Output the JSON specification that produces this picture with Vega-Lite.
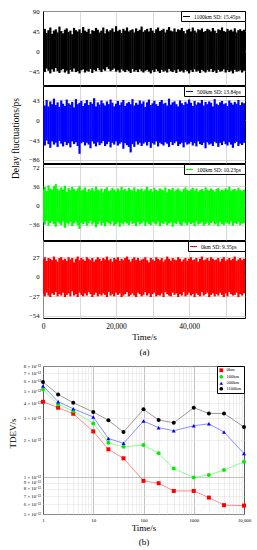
{
"$schema": "https://vega.github.io/schema/vega-lite/v6.json",
"background": "white",
"padding": {"left": 8, "top": 7, "right": 2, "bottom": 2},
"config": {
  "font": "Liberation Serif",
  "view": {"stroke": "black", "strokeWidth": 1},
  "axis": {"gridColor": "#c8c8c8", "gridWidth": 0.7, "domain": false, "ticks": false, "labelFont": "Liberation Serif", "titleFont": "Liberation Serif", "titleFontWeight": "normal", "labelColor": "black", "titleColor": "black"}
},
"datasets": {
"p1": [
{"t":0,"lo":-42,"hi":44},{"t":500,"lo":-47,"hi":50},{"t":1000,"lo":-39,"hi":41},{"t":1500,"lo":-44,"hi":47},{"t":2000,"lo":-50,"hi":53},{"t":2500,"lo":-41,"hi":39},{"t":3000,"lo":-46,"hi":46},{"t":3500,"lo":-38,"hi":49},{"t":4000,"lo":-45,"hi":42},{"t":4500,"lo":-49,"hi":55},
{"t":5000,"lo":-43,"hi":45},{"t":5500,"lo":-40,"hi":40},{"t":6000,"lo":-48,"hi":48},{"t":6500,"lo":-44,"hi":51},{"t":7000,"lo":-51,"hi":43},{"t":7500,"lo":-42,"hi":46},{"t":8000,"lo":-46,"hi":38},{"t":8500,"lo":-39,"hi":52},{"t":9000,"lo":-47,"hi":47},{"t":9500,"lo":-45,"hi":44},
{"t":10000,"lo":-50,"hi":49},{"t":10500,"lo":-43,"hi":41},{"t":11000,"lo":-41,"hi":54},{"t":11500,"lo":-48,"hi":46},{"t":12000,"lo":-44,"hi":43},{"t":12500,"lo":-46,"hi":50},{"t":13000,"lo":-40,"hi":39},{"t":13500,"lo":-49,"hi":47},{"t":14000,"lo":-42,"hi":45},{"t":14500,"lo":-45,"hi":52},
{"t":15000,"lo":-38,"hi":48},{"t":15500,"lo":-43,"hi":42},{"t":16000,"lo":-47,"hi":46},{"t":16500,"lo":-41,"hi":53},{"t":17000,"lo":-44,"hi":40},{"t":17500,"lo":-36,"hi":49},{"t":18000,"lo":-40,"hi":44},{"t":18500,"lo":-45,"hi":47},{"t":19000,"lo":-42,"hi":51},{"t":19500,"lo":-39,"hi":43},
{"t":20000,"lo":-46,"hi":56},{"t":20500,"lo":-43,"hi":45},{"t":21000,"lo":-48,"hi":48},{"t":21500,"lo":-41,"hi":41},{"t":22000,"lo":-44,"hi":50},{"t":22500,"lo":-47,"hi":46},{"t":23000,"lo":-42,"hi":53},{"t":23500,"lo":-45,"hi":44},{"t":24000,"lo":-49,"hi":47},{"t":24500,"lo":-40,"hi":49},
{"t":25000,"lo":-46,"hi":42},{"t":25500,"lo":-43,"hi":51},{"t":26000,"lo":-47,"hi":45},{"t":26500,"lo":-41,"hi":48},{"t":27000,"lo":-45,"hi":55},{"t":27500,"lo":-48,"hi":43},{"t":28000,"lo":-44,"hi":47},{"t":28500,"lo":-42,"hi":50},{"t":29000,"lo":-46,"hi":44},{"t":29500,"lo":-50,"hi":52},
{"t":30000,"lo":-43,"hi":46},{"t":30500,"lo":-47,"hi":41},{"t":31000,"lo":-41,"hi":49},{"t":31500,"lo":-45,"hi":53},{"t":32000,"lo":-49,"hi":45},{"t":32500,"lo":-42,"hi":47},{"t":33000,"lo":-46,"hi":50},{"t":33500,"lo":-44,"hi":42},{"t":34000,"lo":-48,"hi":48},{"t":34500,"lo":-40,"hi":54},
{"t":35000,"lo":-45,"hi":46},{"t":35500,"lo":-47,"hi":44},{"t":36000,"lo":-43,"hi":51},{"t":36500,"lo":-49,"hi":43},{"t":37000,"lo":-41,"hi":49},{"t":37500,"lo":-46,"hi":47},{"t":38000,"lo":-44,"hi":52},{"t":38500,"lo":-48,"hi":45},{"t":39000,"lo":-42,"hi":40},{"t":39500,"lo":-45,"hi":48},
{"t":40000,"lo":-50,"hi":50},{"t":40500,"lo":-43,"hi":44},{"t":41000,"lo":-47,"hi":53},{"t":41500,"lo":-41,"hi":46},{"t":42000,"lo":-46,"hi":42},{"t":42500,"lo":-44,"hi":49},{"t":43000,"lo":-49,"hi":47},{"t":43500,"lo":-42,"hi":51},{"t":44000,"lo":-45,"hi":43},{"t":44500,"lo":-48,"hi":45},
{"t":45000,"lo":-43,"hi":50},{"t":45500,"lo":-46,"hi":48},{"t":46000,"lo":-40,"hi":44},{"t":46500,"lo":-47,"hi":52},{"t":47000,"lo":-44,"hi":46},{"t":47500,"lo":-49,"hi":41},{"t":48000,"lo":-42,"hi":49},{"t":48500,"lo":-46,"hi":47},{"t":49000,"lo":-45,"hi":53},{"t":49500,"lo":-41,"hi":45},
{"t":50000,"lo":-48,"hi":43},{"t":50500,"lo":-43,"hi":50},{"t":51000,"lo":-47,"hi":46},{"t":51500,"lo":-44,"hi":48},{"t":52000,"lo":-50,"hi":44},{"t":52500,"lo":-42,"hi":51},{"t":53000,"lo":-46,"hi":42},{"t":53500,"lo":-45,"hi":47},{"t":54000,"lo":-43,"hi":49},{"t":54500,"lo":-48,"hi":45},
{"t":55000,"lo":-44,"hi":48}
],
"p2": [
{"t":0,"lo":-48,"hi":38},{"t":500,"lo":-55,"hi":32},{"t":1000,"lo":-44,"hi":44},{"t":1500,"lo":-52,"hi":30},{"t":2000,"lo":-60,"hi":41},{"t":2500,"lo":-46,"hi":35},{"t":3000,"lo":-53,"hi":47},{"t":3500,"lo":-49,"hi":33},{"t":4000,"lo":-58,"hi":39},{"t":4500,"lo":-45,"hi":29},
{"t":5000,"lo":-51,"hi":43},{"t":5500,"lo":-57,"hi":36},{"t":6000,"lo":-47,"hi":31},{"t":6500,"lo":-54,"hi":45},{"t":7000,"lo":-50,"hi":37},{"t":7500,"lo":-59,"hi":34},{"t":8000,"lo":-46,"hi":40},{"t":8500,"lo":-52,"hi":28},{"t":9000,"lo":-48,"hi":46},{"t":9500,"lo":-56,"hi":35},
{"t":10000,"lo":-73,"hi":38},{"t":10500,"lo":-50,"hi":42},{"t":11000,"lo":-47,"hi":31},{"t":11500,"lo":-55,"hi":37},{"t":12000,"lo":-49,"hi":44},{"t":12500,"lo":-53,"hi":33},{"t":13000,"lo":-61,"hi":40},{"t":13500,"lo":-46,"hi":36},{"t":14000,"lo":-51,"hi":48},{"t":14500,"lo":-57,"hi":30},
{"t":15000,"lo":-48,"hi":39},{"t":15500,"lo":-54,"hi":34},{"t":16000,"lo":-50,"hi":43},{"t":16500,"lo":-45,"hi":37},{"t":17000,"lo":-56,"hi":32},{"t":17500,"lo":-52,"hi":41},{"t":18000,"lo":-47,"hi":35},{"t":18500,"lo":-59,"hi":45},{"t":19000,"lo":-49,"hi":38},{"t":19500,"lo":-53,"hi":30},
{"t":20000,"lo":-46,"hi":36},{"t":20500,"lo":-55,"hi":42},{"t":21000,"lo":-51,"hi":33},{"t":21500,"lo":-48,"hi":39},{"t":22000,"lo":-62,"hi":44},{"t":22500,"lo":-50,"hi":31},{"t":23000,"lo":-54,"hi":37},{"t":23500,"lo":-58,"hi":40},{"t":24000,"lo":-70,"hi":35},{"t":24500,"lo":-52,"hi":46},
{"t":25000,"lo":-58,"hi":32},{"t":25500,"lo":-46,"hi":38},{"t":26000,"lo":-53,"hi":34},{"t":26500,"lo":-49,"hi":43},{"t":27000,"lo":-56,"hi":36},{"t":27500,"lo":-51,"hi":41},{"t":28000,"lo":-48,"hi":29},{"t":28500,"lo":-55,"hi":39},{"t":29000,"lo":-47,"hi":45},{"t":29500,"lo":-60,"hi":33},
{"t":30000,"lo":-50,"hi":37},{"t":30500,"lo":-53,"hi":42},{"t":31000,"lo":-46,"hi":35},{"t":31500,"lo":-57,"hi":31},{"t":32000,"lo":-49,"hi":40},{"t":32500,"lo":-52,"hi":44},{"t":33000,"lo":-55,"hi":36},{"t":33500,"lo":-48,"hi":38},{"t":34000,"lo":-51,"hi":32},{"t":34500,"lo":-58,"hi":47},
{"t":35000,"lo":-47,"hi":34},{"t":35500,"lo":-54,"hi":39},{"t":36000,"lo":-50,"hi":41},{"t":36500,"lo":-46,"hi":35},{"t":37000,"lo":-56,"hi":30},{"t":37500,"lo":-52,"hi":43},{"t":38000,"lo":-49,"hi":37},{"t":38500,"lo":-59,"hi":33},{"t":39000,"lo":-48,"hi":40},{"t":39500,"lo":-53,"hi":36},
{"t":40000,"lo":-51,"hi":45},{"t":40500,"lo":-47,"hi":38},{"t":41000,"lo":-55,"hi":31},{"t":41500,"lo":-50,"hi":42},{"t":42000,"lo":-57,"hi":34},{"t":42500,"lo":-46,"hi":39},{"t":43000,"lo":-52,"hi":37},{"t":43500,"lo":-54,"hi":44},{"t":44000,"lo":-49,"hi":32},{"t":44500,"lo":-61,"hi":40},
{"t":45000,"lo":-48,"hi":35},{"t":45500,"lo":-53,"hi":41},{"t":46000,"lo":-51,"hi":38},{"t":46500,"lo":-56,"hi":30},{"t":47000,"lo":-47,"hi":46},{"t":47500,"lo":-50,"hi":36},{"t":48000,"lo":-58,"hi":33},{"t":48500,"lo":-49,"hi":39},{"t":49000,"lo":-54,"hi":42},{"t":49500,"lo":-46,"hi":35},
{"t":50000,"lo":-52,"hi":37},{"t":50500,"lo":-55,"hi":31},{"t":51000,"lo":-48,"hi":43},{"t":51500,"lo":-53,"hi":38},{"t":52000,"lo":-60,"hi":34},{"t":52500,"lo":-50,"hi":40},{"t":53000,"lo":-47,"hi":36},{"t":53500,"lo":-56,"hi":44},{"t":54000,"lo":-51,"hi":33},{"t":54500,"lo":-54,"hi":39},
{"t":55000,"lo":-49,"hi":37}
],
"p3": [
{"t":0,"lo":-32,"hi":30},{"t":500,"lo":-36,"hi":35},{"t":1000,"lo":-29,"hi":27},{"t":1500,"lo":-38,"hi":38},{"t":2000,"lo":-33,"hi":32},{"t":2500,"lo":-30,"hi":29},{"t":3000,"lo":-35,"hi":36},{"t":3500,"lo":-40,"hi":40},{"t":4000,"lo":-31,"hi":31},{"t":4500,"lo":-34,"hi":28},
{"t":5000,"lo":-37,"hi":34},{"t":5500,"lo":-30,"hi":30},{"t":6000,"lo":-42,"hi":37},{"t":6500,"lo":-33,"hi":26},{"t":7000,"lo":-36,"hi":33},{"t":7500,"lo":-31,"hi":29},{"t":8000,"lo":-39,"hi":35},{"t":8500,"lo":-34,"hi":31},{"t":9000,"lo":-30,"hi":27},{"t":9500,"lo":-37,"hi":32},
{"t":10000,"lo":-44,"hi":36},{"t":10500,"lo":-33,"hi":28},{"t":11000,"lo":-35,"hi":30},{"t":11500,"lo":-31,"hi":34},{"t":12000,"lo":-38,"hi":26},{"t":12500,"lo":-34,"hi":31},{"t":13000,"lo":-29,"hi":29},{"t":13500,"lo":-36,"hi":33},{"t":14000,"lo":-32,"hi":27},{"t":14500,"lo":-41,"hi":35},
{"t":15000,"lo":-35,"hi":30},{"t":15500,"lo":-30,"hi":28},{"t":16000,"lo":-37,"hi":32},{"t":16500,"lo":-33,"hi":25},{"t":17000,"lo":-39,"hi":31},{"t":17500,"lo":-31,"hi":34},{"t":18000,"lo":-34,"hi":27},{"t":18500,"lo":-36,"hi":29},{"t":19000,"lo":-30,"hi":33},{"t":19500,"lo":-38,"hi":30},
{"t":20000,"lo":-35,"hi":26},{"t":20500,"lo":-32,"hi":32},{"t":21000,"lo":-40,"hi":28},{"t":21500,"lo":-33,"hi":35},{"t":22000,"lo":-36,"hi":29},{"t":22500,"lo":-31,"hi":31},{"t":23000,"lo":-34,"hi":27},{"t":23500,"lo":-37,"hi":33},{"t":24000,"lo":-30,"hi":30},{"t":24500,"lo":-35,"hi":28},
{"t":25000,"lo":-33,"hi":34},{"t":25500,"lo":-39,"hi":26},{"t":26000,"lo":-31,"hi":31},{"t":26500,"lo":-36,"hi":29},{"t":27000,"lo":-34,"hi":32},{"t":27500,"lo":-30,"hi":27},{"t":28000,"lo":-38,"hi":30},{"t":28500,"lo":-32,"hi":35},{"t":29000,"lo":-35,"hi":28},{"t":29500,"lo":-37,"hi":31},
{"t":30000,"lo":-31,"hi":26},{"t":30500,"lo":-34,"hi":33},{"t":31000,"lo":-36,"hi":29},{"t":31500,"lo":-30,"hi":27},{"t":32000,"lo":-39,"hi":32},{"t":32500,"lo":-33,"hi":30},{"t":33000,"lo":-35,"hi":28},{"t":33500,"lo":-31,"hi":34},{"t":34000,"lo":-37,"hi":25},{"t":34500,"lo":-34,"hi":31},
{"t":35000,"lo":-32,"hi":29},{"t":35500,"lo":-40,"hi":33},{"t":36000,"lo":-33,"hi":27},{"t":36500,"lo":-35,"hi":30},{"t":37000,"lo":-30,"hi":32},{"t":37500,"lo":-36,"hi":28},{"t":38000,"lo":-38,"hi":26},{"t":38500,"lo":-31,"hi":31},{"t":39000,"lo":-34,"hi":34},{"t":39500,"lo":-37,"hi":29},
{"t":40000,"lo":-32,"hi":27},{"t":40500,"lo":-35,"hi":30},{"t":41000,"lo":-33,"hi":33},{"t":41500,"lo":-39,"hi":28},{"t":42000,"lo":-30,"hi":32},{"t":42500,"lo":-36,"hi":26},{"t":43000,"lo":-34,"hi":29},{"t":43500,"lo":-31,"hi":31},{"t":44000,"lo":-38,"hi":27},{"t":44500,"lo":-35,"hi":34},
{"t":45000,"lo":-32,"hi":30},{"t":45500,"lo":-37,"hi":28},{"t":46000,"lo":-33,"hi":32},{"t":46500,"lo":-30,"hi":29},{"t":47000,"lo":-36,"hi":26},{"t":47500,"lo":-34,"hi":31},{"t":48000,"lo":-39,"hi":33},{"t":48500,"lo":-31,"hi":27},{"t":49000,"lo":-35,"hi":30},{"t":49500,"lo":-37,"hi":28},
{"t":50000,"lo":-32,"hi":32},{"t":50500,"lo":-34,"hi":29},{"t":51000,"lo":-36,"hi":35},{"t":51500,"lo":-30,"hi":27},{"t":52000,"lo":-38,"hi":30},{"t":52500,"lo":-33,"hi":31},{"t":53000,"lo":-35,"hi":28},{"t":53500,"lo":-31,"hi":33},{"t":54000,"lo":-37,"hi":29},{"t":54500,"lo":-34,"hi":27},
{"t":55000,"lo":-33,"hi":30}
],
"p4": [
{"t":0,"lo":-24,"hi":24},{"t":500,"lo":-27,"hi":27},{"t":1000,"lo":-22,"hi":22},{"t":1500,"lo":-26,"hi":26},{"t":2000,"lo":-28,"hi":25},{"t":2500,"lo":-23,"hi":23},{"t":3000,"lo":-25,"hi":28},{"t":3500,"lo":-21,"hi":24},{"t":4000,"lo":-27,"hi":21},{"t":4500,"lo":-24,"hi":26},
{"t":5000,"lo":-26,"hi":27},{"t":5500,"lo":-22,"hi":23},{"t":6000,"lo":-28,"hi":25},{"t":6500,"lo":-25,"hi":22},{"t":7000,"lo":-23,"hi":27},{"t":7500,"lo":-27,"hi":24},{"t":8000,"lo":-20,"hi":26},{"t":8500,"lo":-26,"hi":20},{"t":9000,"lo":-24,"hi":25},{"t":9500,"lo":-28,"hi":28},
{"t":10000,"lo":-22,"hi":23},{"t":10500,"lo":-25,"hi":26},{"t":11000,"lo":-27,"hi":24},{"t":11500,"lo":-23,"hi":22},{"t":12000,"lo":-26,"hi":27},{"t":12500,"lo":-21,"hi":25},{"t":13000,"lo":-24,"hi":23},{"t":13500,"lo":-28,"hi":26},{"t":14000,"lo":-25,"hi":21},{"t":14500,"lo":-22,"hi":24},
{"t":15000,"lo":-27,"hi":27},{"t":15500,"lo":-24,"hi":25},{"t":16000,"lo":-26,"hi":22},{"t":16500,"lo":-23,"hi":26},{"t":17000,"lo":-25,"hi":24},{"t":17500,"lo":-28,"hi":28},{"t":18000,"lo":-21,"hi":23},{"t":18500,"lo":-26,"hi":25},{"t":19000,"lo":-24,"hi":21},{"t":19500,"lo":-27,"hi":26},
{"t":20000,"lo":-22,"hi":24},{"t":20500,"lo":-25,"hi":27},{"t":21000,"lo":-23,"hi":22},{"t":21500,"lo":-28,"hi":25},{"t":22000,"lo":-26,"hi":23},{"t":22500,"lo":-24,"hi":26},{"t":23000,"lo":-21,"hi":28},{"t":23500,"lo":-27,"hi":24},{"t":24000,"lo":-25,"hi":21},{"t":24500,"lo":-23,"hi":25},
{"t":25000,"lo":-26,"hi":27},{"t":25500,"lo":-28,"hi":23},{"t":26000,"lo":-22,"hi":26},{"t":26500,"lo":-24,"hi":22},{"t":27000,"lo":-27,"hi":24},{"t":27500,"lo":-25,"hi":25},{"t":28000,"lo":-21,"hi":27},{"t":28500,"lo":-26,"hi":23},{"t":29000,"lo":-23,"hi":20},{"t":29500,"lo":-28,"hi":26},
{"t":30000,"lo":-24,"hi":24},{"t":30500,"lo":-22,"hi":22},{"t":31000,"lo":-27,"hi":27},{"t":31500,"lo":-25,"hi":25},{"t":32000,"lo":-26,"hi":23},{"t":32500,"lo":-23,"hi":26},{"t":33000,"lo":-28,"hi":21},{"t":33500,"lo":-21,"hi":24},{"t":34000,"lo":-24,"hi":28},{"t":34500,"lo":-26,"hi":25},
{"t":35000,"lo":-27,"hi":22},{"t":35500,"lo":-22,"hi":26},{"t":36000,"lo":-25,"hi":24},{"t":36500,"lo":-23,"hi":23},{"t":37000,"lo":-28,"hi":27},{"t":37500,"lo":-24,"hi":25},{"t":38000,"lo":-26,"hi":21},{"t":38500,"lo":-21,"hi":24},{"t":39000,"lo":-27,"hi":26},{"t":39500,"lo":-25,"hi":22},
{"t":40000,"lo":-22,"hi":25},{"t":40500,"lo":-26,"hi":27},{"t":41000,"lo":-24,"hi":23},{"t":41500,"lo":-28,"hi":24},{"t":42000,"lo":-23,"hi":26},{"t":42500,"lo":-25,"hi":21},{"t":43000,"lo":-27,"hi":25},{"t":43500,"lo":-21,"hi":28},{"t":44000,"lo":-26,"hi":23},{"t":44500,"lo":-24,"hi":24},
{"t":45000,"lo":-22,"hi":26},{"t":45500,"lo":-28,"hi":22},{"t":46000,"lo":-25,"hi":27},{"t":46500,"lo":-23,"hi":25},{"t":47000,"lo":-27,"hi":23},{"t":47500,"lo":-24,"hi":24},{"t":48000,"lo":-26,"hi":26},{"t":48500,"lo":-22,"hi":21},{"t":49000,"lo":-25,"hi":25},{"t":49500,"lo":-28,"hi":27},
{"t":50000,"lo":-23,"hi":22},{"t":50500,"lo":-27,"hi":24},{"t":51000,"lo":-21,"hi":26},{"t":51500,"lo":-24,"hi":23},{"t":52000,"lo":-26,"hi":25},{"t":52500,"lo":-25,"hi":28},{"t":53000,"lo":-22,"hi":22},{"t":53500,"lo":-28,"hi":24},{"t":54000,"lo":-24,"hi":26},{"t":54500,"lo":-26,"hi":23},
{"t":55000,"lo":-23,"hi":25}
],
"tdev": [
{"series":"0km","tau":1,"tdev":4.09e-12},{"series":"0km","tau":2,"tdev":3.66e-12},{"series":"0km","tau":4,"tdev":3.27e-12},{"series":"0km","tau":10,"tdev":2.35e-12},{"series":"0km","tau":20,"tdev":1.68e-12},{"series":"0km","tau":40,"tdev":1.42e-12},{"series":"0km","tau":100,"tdev":9.3e-13},{"series":"0km","tau":200,"tdev":8.9e-13},{"series":"0km","tau":400,"tdev":7.7e-13},{"series":"0km","tau":1000,"tdev":7.7e-13},{"series":"0km","tau":2000,"tdev":6.8e-13},{"series":"0km","tau":4000,"tdev":5.9e-13},{"series":"0km","tau":10000,"tdev":5.85e-13},
{"series":"100km","tau":1,"tdev":5.15e-12},{"series":"100km","tau":2,"tdev":3.89e-12},{"series":"100km","tau":4,"tdev":3.44e-12},{"series":"100km","tau":10,"tdev":2.73e-12},{"series":"100km","tau":20,"tdev":1.9e-12},{"series":"100km","tau":40,"tdev":1.76e-12},{"series":"100km","tau":100,"tdev":1.82e-12},{"series":"100km","tau":200,"tdev":1.56e-12},{"series":"100km","tau":400,"tdev":1.17e-12},{"series":"100km","tau":1000,"tdev":9.9e-13},{"series":"100km","tau":2000,"tdev":1.04e-12},{"series":"100km","tau":4000,"tdev":1.14e-12},{"series":"100km","tau":10000,"tdev":1.33e-12},
{"series":"500km","tau":1,"tdev":5.5e-12},{"series":"500km","tau":2,"tdev":4.1e-12},{"series":"500km","tau":4,"tdev":3.59e-12},{"series":"500km","tau":10,"tdev":3.08e-12},{"series":"500km","tau":20,"tdev":2.06e-12},{"series":"500km","tau":40,"tdev":1.88e-12},{"series":"500km","tau":100,"tdev":2.85e-12},{"series":"500km","tau":200,"tdev":2.52e-12},{"series":"500km","tau":400,"tdev":2.38e-12},{"series":"500km","tau":1000,"tdev":2.61e-12},{"series":"500km","tau":2000,"tdev":2.71e-12},{"series":"500km","tau":4000,"tdev":2.32e-12},{"series":"500km","tau":10000,"tdev":1.55e-12},
{"series":"1100km","tau":1,"tdev":5.92e-12},{"series":"1100km","tau":2,"tdev":4.7e-12},{"series":"1100km","tau":4,"tdev":4.02e-12},{"series":"1100km","tau":10,"tdev":3.38e-12},{"series":"1100km","tau":20,"tdev":2.89e-12},{"series":"1100km","tau":40,"tdev":2.32e-12},{"series":"1100km","tau":100,"tdev":3.55e-12},{"series":"1100km","tau":200,"tdev":2.91e-12},{"series":"1100km","tau":400,"tdev":2.76e-12},{"series":"1100km","tau":1000,"tdev":3.66e-12},{"series":"1100km","tau":2000,"tdev":3.29e-12},{"series":"1100km","tau":4000,"tdev":3.29e-12},{"series":"1100km","tau":10000,"tdev":2.55e-12}
]
},
"spacing": 5,
"resolve": {"scale": {"x": "independent", "y": "independent", "color": "independent", "fill": "independent", "shape": "independent", "stroke": "independent"}, "legend": {"color": "independent", "fill": "independent", "shape": "independent", "stroke": "independent"}},
"vconcat": [
{
  "spacing": 1,
  "bounds": "flush",
  "resolve": {"scale": {"x": "independent", "y": "independent", "color": "independent"}, "legend": {"color": "independent"}},
  "vconcat": [
    {
      "width": 202, "height": 74,
      "data": {"name": "p1"},
      "mark": {"type": "rule", "strokeWidth": 2.2, "clip": true},
      "encoding": {
        "x": {"field": "t", "type": "quantitative", "scale": {"domain": [0, 55300], "nice": false, "zero": false}, "axis": {"title": null, "labels": false, "grid": true, "values": [10000, 20000, 30000, 40000, 50000]}},
        "y": {"field": "lo", "type": "quantitative", "scale": {"domain": [-76, 90], "nice": false, "zero": false}, "axis": {"title": null, "values": [-45, 0, 45, 90], "labelFontSize": 6.7, "labelPadding": 4, "minExtent": 16, "maxExtent": 16, "labelBound": false}},
        "y2": {"field": "hi"},
        "color": {"datum": "1100km  SD:  15.45ps", "type": "nominal", "scale": {"range": ["#000000"]}, "legend": {"title": null, "orient": "top-right", "offset": 0, "padding": 1, "strokeColor": "black", "fillColor": "white", "symbolType": "stroke", "symbolSize": 50, "symbolStrokeWidth": 1, "labelFontSize": 5.5, "labelFont": "Liberation Serif", "labelOffset": 3, "labelLimit": 200}}
      }
    },
    {
      "width": 202, "height": 77,
      "data": {"name": "p2"},
      "mark": {"type": "rule", "strokeWidth": 2.2, "clip": true},
      "encoding": {
        "x": {"field": "t", "type": "quantitative", "scale": {"domain": [0, 55300], "nice": false, "zero": false}, "axis": {"title": null, "labels": false, "grid": true, "values": [10000, 20000, 30000, 40000, 50000]}},
        "y": {"field": "lo", "type": "quantitative", "scale": {"domain": [-93, 74.5], "nice": false, "zero": false}, "axis": {"title": "Delay fluctuations/ps", "titleFontSize": 9.5, "titlePadding": 7, "titleY": 52, "values": [-86, -43, 0, 43], "labelFontSize": 6.7, "labelPadding": 4, "minExtent": 16, "maxExtent": 16, "labelBound": false}},
        "y2": {"field": "hi"},
        "color": {"datum": "500km  SD:  13.84ps", "type": "nominal", "scale": {"range": ["#0000ff"]}, "legend": {"title": null, "orient": "top-right", "offset": 0, "padding": 1, "strokeColor": "black", "fillColor": "white", "symbolType": "stroke", "symbolSize": 50, "symbolStrokeWidth": 1, "labelFontSize": 5.5, "labelFont": "Liberation Serif", "labelOffset": 3, "labelLimit": 200}}
      }
    },
    {
      "width": 202, "height": 76,
      "data": {"name": "p3"},
      "mark": {"type": "rule", "strokeWidth": 2.2, "clip": true},
      "encoding": {
        "x": {"field": "t", "type": "quantitative", "scale": {"domain": [0, 55300], "nice": false, "zero": false}, "axis": {"title": null, "labels": false, "grid": true, "values": [10000, 20000, 30000, 40000, 50000]}},
        "y": {"field": "lo", "type": "quantitative", "scale": {"domain": [-65, 78], "nice": false, "zero": false}, "axis": {"title": null, "values": [-36, 0, 36, 72], "labelFontSize": 6.7, "labelPadding": 4, "minExtent": 16, "maxExtent": 16, "labelBound": false}},
        "y2": {"field": "hi"},
        "color": {"datum": "100km  SD:  10.23ps", "type": "nominal", "scale": {"range": ["#00ff00"]}, "legend": {"title": null, "orient": "top-right", "offset": 0, "padding": 1, "strokeColor": "black", "fillColor": "white", "symbolType": "stroke", "symbolSize": 50, "symbolStrokeWidth": 1, "labelFontSize": 5.5, "labelFont": "Liberation Serif", "labelOffset": 3, "labelLimit": 200}}
      }
    },
    {
      "width": 202, "height": 77,
      "data": {"name": "p4"},
      "mark": {"type": "rule", "strokeWidth": 2.2, "clip": true},
      "encoding": {
        "x": {"field": "t", "type": "quantitative", "scale": {"domain": [0, 55300], "nice": false, "zero": false}, "axis": {"title": ["Time/s", "(a)"], "titleFontSize": 9, "titleLineHeight": 15, "titlePadding": 3, "labelFontSize": 7.5, "labelPadding": 4, "labelFlush": false, "labelOverlap": false, "grid": true, "values": [0, 10000, 20000, 30000, 40000, 50000], "labelExpr": "datum.value % 20000 == 0 ? format(datum.value, ',') : ''"}},
        "y": {"field": "lo", "type": "quantitative", "scale": {"domain": [-57, 49.5], "nice": false, "zero": false}, "axis": {"title": null, "values": [-54, -27, 0, 27], "labelFontSize": 6.7, "labelPadding": 4, "minExtent": 16, "maxExtent": 16, "labelBound": false}},
        "y2": {"field": "hi"},
        "color": {"datum": "0km     SD:  9.35ps", "type": "nominal", "scale": {"range": ["#ff0000"]}, "legend": {"title": null, "orient": "top-right", "offset": 0, "padding": 1, "strokeColor": "black", "fillColor": "white", "symbolType": "stroke", "symbolSize": 50, "symbolStrokeWidth": 1, "labelFontSize": 5.5, "labelFont": "Liberation Serif", "labelOffset": 3, "labelLimit": 200}}
      }
    }
  ]
},
{
  "width": 201, "height": 148,
  "data": {"name": "tdev"},
  "resolve": {"scale": {"fill": "independent", "stroke": "independent", "shape": "independent"}},
  "encoding": {
    "x": {"field": "tau", "type": "quantitative", "scale": {"type": "log", "domain": [1, 10000], "nice": false}, "axis": {"title": ["Time/s", "(b)"], "titleFontSize": 9, "titleLineHeight": 14, "titlePadding": 2, "labelFontSize": 4.8, "labelPadding": 3, "labelFlush": false, "labelOverlap": false, "grid": true, "gridWidth": 0.6, "gridColor": {"condition": {"test": "datum.value == 1 || datum.value == 10 || datum.value == 100 || datum.value == 1000 || datum.value == 10000", "value": "#9a9a9a"}, "value": "#e2e2e2"}, "values": [1,2,3,4,5,6,7,8,9,10,20,30,40,50,60,70,80,90,100,200,300,400,500,600,700,800,900,1000,2000,3000,4000,5000,6000,7000,8000,9000,10000], "labelExpr": "datum.value == 10000 ? '10,000' : (datum.value == 1 || datum.value == 10 || datum.value == 100 || datum.value == 1000) ? '' + datum.value : ''"}},
    "y": {"field": "tdev", "type": "quantitative", "scale": {"type": "log", "domain": [5e-13, 8e-12], "nice": false}, "axis": {"title": "TDEV/s", "titleFontSize": 9, "titlePadding": 3.5, "titleY": 67, "minExtent": 22, "maxExtent": 22, "labelFontSize": 4.8, "labelPadding": 2.5, "labelBound": false, "grid": true, "gridWidth": 0.6, "gridColor": {"condition": {"test": "datum.value == 1e-12", "value": "#9a9a9a"}, "value": "#e2e2e2"}, "values": [5e-13, 6e-13, 7e-13, 8e-13, 9e-13, 1e-12, 2e-12, 3e-12, 4e-12, 5e-12, 6e-12, 7e-12, 8e-12], "labelExpr": "datum.value < 9.5e-13 ? format(datum.value * 1e13, '.0f') + ' × 10⁻¹³' : format(datum.value * 1e12, '.0f') + ' × 10⁻¹²'"}}
  },
  "layer": [
    {
      "mark": {"type": "line", "strokeWidth": 0.8},
      "encoding": {
        "stroke": {"field": "series", "type": "nominal", "scale": {"domain": ["0km", "100km", "500km", "1100km"], "range": ["#ff7070", "#70ff70", "#7070ff", "#808080"]}, "legend": null}
      }
    },
    {
      "mark": {"type": "point", "filled": true, "opacity": 1, "size": 16},
      "encoding": {
        "fill": {"field": "series", "type": "nominal", "scale": {"domain": ["0km", "100km", "500km", "1100km"], "range": ["#ff0000", "#00ee00", "#0000ff", "#000000"]}, "legend": null},
        "shape": {"field": "series", "type": "nominal", "scale": {"domain": ["0km", "100km", "500km", "1100km"], "range": ["square", "circle", "triangle-up", "circle"]}, "legend": {"title": null, "orient": "top-right", "offset": 0, "padding": 2, "strokeColor": "black", "fillColor": "white", "labelFontSize": 4.5, "labelFont": "Liberation Serif", "symbolSize": 14, "rowPadding": 0.5, "labelOffset": 3, "symbolStrokeWidth": 0, "encode": {"symbols": {"update": {"fill": {"signal": "datum.value == '0km' ? '#ff0000' : datum.value == '100km' ? '#00ee00' : datum.value == '500km' ? '#0000ff' : '#000000'"}, "fillOpacity": {"value": 1}}}}}}
      }
    }
  ]
}
]
}
